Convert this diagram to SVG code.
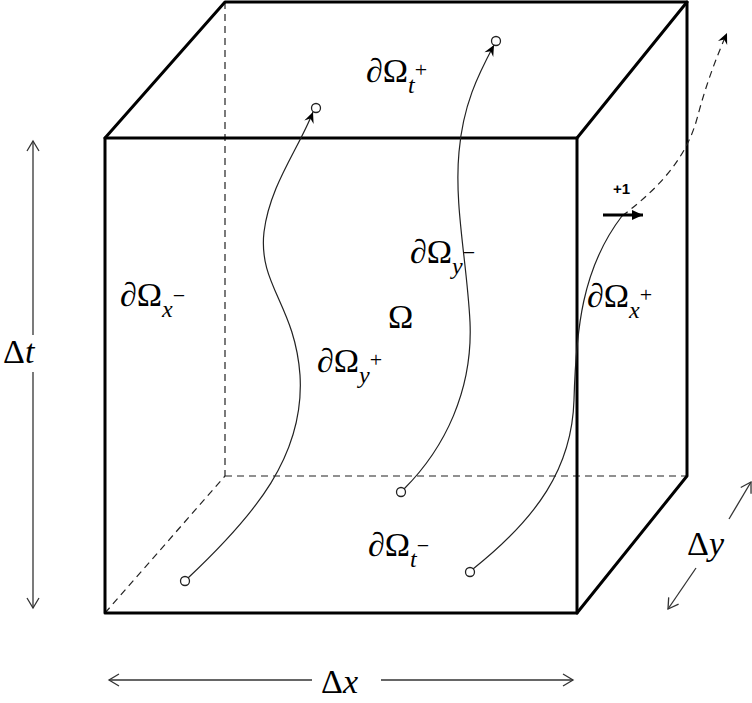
<svg xmlns="http://www.w3.org/2000/svg" width="752" height="703" viewBox="0 0 752 703">
<defs>
<style>
.thick{stroke:#000;stroke-width:3;fill:none;stroke-linecap:round;stroke-linejoin:round}
.dash{stroke:#222;stroke-width:1.2;fill:none;stroke-dasharray:7,5}
.thin{stroke:#222;stroke-width:1.2;fill:none}
.dim{stroke:#333;stroke-width:1.3;fill:none}
.math{font-family:"Liberation Serif","DejaVu Serif",serif;font-size:34px;fill:#000}
.sub{font-style:italic;font-size:24px}
.sup{font-size:22px}
.pt{fill:#fff;stroke:#222;stroke-width:1.3}
</style>
<marker id="stealth" viewBox="-12 -6 14 12" markerWidth="14" markerHeight="12" refX="0" refY="0" orient="auto" markerUnits="userSpaceOnUse">
<path d="M0,0 L-11,-5 L-7,0 L-11,5 Z" fill="#000"/>
</marker>
<marker id="open" viewBox="-12 -7 14 14" markerWidth="14" markerHeight="14" refX="0" refY="0" orient="auto" markerUnits="userSpaceOnUse">
<path d="M-10,-6 L0,0 L-10,6" fill="none" stroke="#333" stroke-width="1.3"/>
</marker>
<marker id="solidhead" viewBox="-12 -6 14 12" markerWidth="14" markerHeight="12" refX="0" refY="0" orient="auto" markerUnits="userSpaceOnUse">
<path d="M0,0 L-11,-5 L-11,5 Z" fill="#000"/>
</marker>
</defs>
<rect width="752" height="703" fill="#fff"/>

<g id="cube">
<line class="dash" x1="225" y1="2" x2="225" y2="476"/>
<line class="dash" x1="225" y1="476" x2="687" y2="476"/>
<line class="dash" x1="105" y1="613" x2="225" y2="476"/>
<path class="thick" d="M105,138 L225,2 L687,2 L687,476 L577,613"/>
<line class="thick" x1="577" y1="138" x2="687" y2="2"/>
<rect class="thick" x="105" y="138" width="472" height="475"/>
</g>

<g id="connectors">
<path class="thin" d="M188,578 C255,515 305,455 300,375 C295,305 258,285 264,232 C270,185 298,150 313,112" marker-end="url(#stealth)"/>
<path class="thin" d="M404,489 C445,448 473,390 470,322 C467,262 454,205 459,152 C463,105 478,75 494,45" marker-end="url(#stealth)"/>
<path class="thin" d="M473,569 C537,518 572,468 574,400 C576,330 582,268 622,216"/>
<path class="dash" d="M622,216 C662,186 688,155 698,115 C706,85 716,58 727,33" stroke-dasharray="5,4" marker-end="url(#stealth)"/>
</g>

<g id="points">
<circle class="pt" cx="185" cy="581" r="4.5"/>
<circle class="pt" cx="316" cy="108" r="4.5"/>
<circle class="pt" cx="496" cy="41" r="4.5"/>
<circle class="pt" cx="401" cy="492" r="4.5"/>
<circle class="pt" cx="470" cy="572" r="4.5"/>
</g>

<g id="plus-one">
<line x1="603" y1="215" x2="643" y2="215" stroke="#000" stroke-width="3.2" marker-end="url(#solidhead)"/>
<text x="613" y="194" font-family="'Liberation Sans', Arial, sans-serif" font-weight="700" font-size="15" fill="#000">+1</text>
</g>

<g id="labels">
<text id="dOmega-tplus" class="math" x="366" y="82">∂Ω<tspan class="sub" dy="11">t</tspan><tspan class="sup" dy="-16">+</tspan></text>
<text id="dOmega-xminus" class="math" x="120" y="306">∂Ω<tspan class="sub" dy="11">x</tspan><tspan class="sup" dy="-14">−</tspan></text>
<text id="dOmega-yminus" class="math" x="410" y="263">∂Ω<tspan class="sub" dy="11">y</tspan><tspan class="sup" dy="-14">−</tspan></text>
<text id="Omega" class="math" x="388" y="328">Ω</text>
<text id="dOmega-yplus" class="math" x="317" y="372">∂Ω<tspan class="sub" dy="11">y</tspan><tspan class="sup" dy="-16">+</tspan></text>
<text id="dOmega-xplus" class="math" x="587" y="307">∂Ω<tspan class="sub" dy="11">x</tspan><tspan class="sup" dy="-16">+</tspan></text>
<text id="dOmega-tminus" class="math" x="368" y="556">∂Ω<tspan class="sub" dy="11">t</tspan><tspan class="sup" dy="-14">−</tspan></text>
</g>

<g id="dim-t">
<line class="dim" x1="33" y1="335" x2="33" y2="141" marker-end="url(#open)"/>
<line class="dim" x1="33" y1="372" x2="33" y2="608" marker-end="url(#open)"/>
<text class="math" x="3" y="363">Δ<tspan font-style="italic">t</tspan></text>
</g>

<g id="dim-x">
<line class="dim" x1="312" y1="680" x2="109" y2="680" marker-end="url(#open)"/>
<line class="dim" x1="381" y1="680" x2="573" y2="680" marker-end="url(#open)"/>
<text class="math" x="321" y="693">Δ<tspan font-style="italic">x</tspan></text>
</g>

<g id="dim-y">
<line class="dim" x1="729" y1="519" x2="751" y2="482" marker-end="url(#open)"/>
<line class="dim" x1="696" y1="568" x2="668" y2="609" marker-end="url(#open)"/>
<text class="math" x="687" y="555">Δ<tspan font-style="italic">y</tspan></text>
</g>
</svg>
